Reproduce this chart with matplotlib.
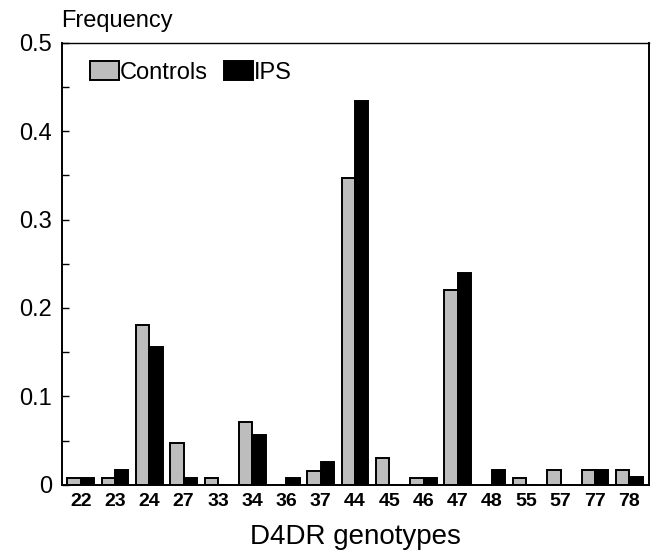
import matplotlib
matplotlib.use("Agg")
import numpy as np
import matplotlib.pyplot as plt
from matplotlib.ticker import MultipleLocator

plt.rcParams['font.family'] = ['Liberation Sans', 'DejaVu Sans']

# D4DR genotype frequencies
genotypes = ['22', '23', '24', '27', '33', '34', '36', '37', '44',
             '45', '46', '47', '48', '55', '57', '77', '78']
controls = [0.008, 0.008, 0.181, 0.047, 0.008, 0.071, 0.0, 0.016, 0.347,
            0.031, 0.008, 0.220, 0.0, 0.008, 0.017, 0.017, 0.017]
ips = [0.008, 0.017, 0.156, 0.008, 0.0, 0.057, 0.008, 0.026, 0.434,
       0.0, 0.008, 0.239, 0.017, 0.0, 0.0, 0.017, 0.009]

x = np.arange(len(genotypes))
w = 0.39

fig = plt.figure(figsize=(6.52, 5.6), dpi=100)
ax = fig.add_axes([0.095, 0.134, 0.9, 0.79])

ax.bar(x - w / 2, controls, w, color='#bdbdbd', edgecolor='black',
       linewidth=1.4, label='Controls')
ax.bar(x + w / 2, ips, w, color='black', edgecolor='black',
       linewidth=1.4, label='IPS')

ax.set_xlim(-0.55, len(genotypes) - 0.43)
ax.set_ylim(0, 0.5)
ax.yaxis.set_minor_locator(MultipleLocator(0.05))
ax.set_yticks([0, 0.1, 0.2, 0.3, 0.4, 0.5])
ax.set_yticklabels(['0', '0.1', '0.2', '0.3', '0.4', '0.5'], fontsize=17)
ax.tick_params(axis='y', which='both', direction='in', length=5, width=1)
ax.tick_params(axis='y', which='major', pad=7)

ax.set_xticks(x)
ax.set_xticklabels(genotypes, fontsize=14, fontweight='bold')
ax.tick_params(axis='x', length=0, pad=6)

for s in ax.spines.values():
    s.set_linewidth(1.4)
ax.spines['top'].set_linewidth(1.0)

ax.set_xlabel('D4DR genotypes', fontsize=20, labelpad=10)
fig.text(0.094, 0.962, 'Frequency', fontsize=17, ha='left', va='center')

ax.legend(loc='upper left', bbox_to_anchor=(0.02, 0.995), ncol=2,
          frameon=False, fontsize=17, handlelength=1.2, handleheight=0.85,
          handletextpad=0.05, columnspacing=0.7, borderaxespad=0.3)

fig.savefig('out.png', dpi=100)
